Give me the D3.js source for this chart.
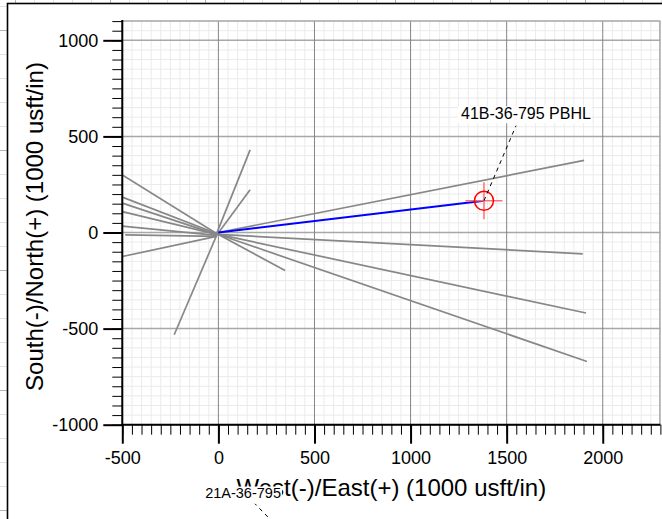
<!DOCTYPE html>
<html>
<head>
<meta charset="utf-8">
<script src="https://cdn.jsdelivr.net/npm/d3@7"></script>
<style>
  html, body { margin: 0; padding: 0; background: #fff; overflow: hidden; }
  text { font-family: "Liberation Sans", Arial, sans-serif; }
</style>
</head>
<body>
<div id="chart"></div>
<script>
const width = 662;
const height = 519;

// plot frame in pixels
const plot = { left: 122.3, right: 660.4, top: 21.1, bottom: 424.7 };

// data (East, North) in 1000 usft/in
const xDomain = [-500, 2300];
const yDomain = [-1000, 1100];
const majorStep = 500;
const minorStep = 50;
const xTickValues = [-500, 0, 500, 1000, 1500, 2000];
const yTickValues = [-1000, -500, 0, 500, 1000];

// offset wells, each a list of [east, north] points
const offsetWells = [
    [[-10, -5], [-500, 300]],
    [[-10, -5], [-500, 184]],
    [[-10, -10], [-500, 153]],
    [[-10, -10], [-500, 109]],
    [[-10, -15], [-500, 33]],
    [[-10, -20], [-485, -12]],
    [[-10, -20], [-500, -125]],
    [[-15, -20], [165, 430]],
    [[-10, -15], [165, 222]],
    [[-5, -5], [-230, -532]],
    [[0, -10], [347, -198]],
    [[0, 0], [1903, 375]],
    [[0, -10], [1896, -111]],
    [[0, -10], [1913, -419]],
    [[0, -10], [1918, -671]]
];

// plan well
const planWell = [[0, 0], [1382, 165]];
const target = { east: 1382, north: 165 };

// annotations: text and anchor (east, north)
const annotations = [
    { text: "41B-36-795 PBHL", east: 1382, north: 165 },
    { text: "21A-36-795", east: 373, north: -1599 }
];

const xTitle = "West(-)/East(+) (1000 usft/in)";
const yTitle = "South(-)/North(+) (1000 usft/in)";

// scales
const xScale = d3.scaleLinear().domain(xDomain).range([plot.left, plot.right]);
const yScale = d3.scaleLinear().domain(yDomain).range([plot.bottom, plot.top]);

const svg = d3.select("#chart").append("svg")
    .attr("width", width)
    .attr("height", height);

// page behind the chart frame (spreadsheet-like strips)
const bg = svg.append("g").attr("class", "page");
d3.range(0, width, 19).forEach((x, i) => {
    bg.append("line").attr("x1", x + 15.5).attr("x2", x + 15.5).attr("y1", 0).attr("y2", 3)
        .attr("stroke", i % 5 === 0 ? "#b5b5b5" : "#e3e3e3");
});
d3.range(6, height, 24).forEach((y, i) => {
    bg.append("line").attr("x1", 0).attr("x2", 7).attr("y1", y + 0.5).attr("y2", y + 0.5)
        .attr("stroke", i % 5 === 1 ? "#b5b5b5" : "#e3e3e3");
});

// chart frame
svg.append("rect")
    .attr("x", 7.5).attr("y", 3.5)
    .attr("width", width + 20).attr("height", height + 20)
    .attr("fill", "#fff")
    .attr("stroke", "#000")
    .attr("stroke-width", 1.6);

svg.append("defs").append("clipPath").attr("id", "plotClip")
    .append("rect")
    .attr("x", plot.left).attr("y", plot.top)
    .attr("width", plot.right - plot.left).attr("height", plot.bottom - plot.top);

const grid = svg.append("g").attr("class", "grid");

// minor grid
const xMinor = d3.range(xDomain[0], xDomain[1] + 1, minorStep).filter(d => d % majorStep !== 0);
const yMinor = d3.range(yDomain[0], yDomain[1] + 1, minorStep).filter(d => d % majorStep !== 0);

grid.selectAll("line.vminor").data(xMinor).join("line")
    .attr("class", "vminor")
    .attr("x1", d => xScale(d)).attr("x2", d => xScale(d))
    .attr("y1", plot.top).attr("y2", plot.bottom)
    .attr("stroke", "#ebebeb").attr("stroke-width", 1);

grid.selectAll("line.hminor").data(yMinor).join("line")
    .attr("class", "hminor")
    .attr("x1", plot.left).attr("x2", plot.right)
    .attr("y1", d => yScale(d)).attr("y2", d => yScale(d))
    .attr("stroke", "#ebebeb").attr("stroke-width", 1);

// major grid
const xMajor = d3.range(xDomain[0], xDomain[1] + 1, majorStep);
const yMajor = d3.range(yDomain[0], yDomain[1] + 1, majorStep);

grid.selectAll("line.hmajor").data(yMajor).join("line")
    .attr("class", "hmajor")
    .attr("x1", plot.left).attr("x2", plot.right)
    .attr("y1", d => yScale(d)).attr("y2", d => yScale(d))
    .attr("stroke", "#a8a8a8").attr("stroke-width", 1.5);

grid.selectAll("line.vmajor").data(xMajor).join("line")
    .attr("class", "vmajor")
    .attr("x1", d => xScale(d)).attr("x2", d => xScale(d))
    .attr("y1", plot.top).attr("y2", plot.bottom)
    .attr("stroke", "#858585").attr("stroke-width", 1);

// plot border top / right
grid.append("line")
    .attr("x1", plot.left).attr("x2", plot.right)
    .attr("y1", plot.top).attr("y2", plot.top)
    .attr("stroke", "#a8a8a8").attr("stroke-width", 1.5);
grid.append("line")
    .attr("x1", plot.right - 0.5).attr("x2", plot.right - 0.5)
    .attr("y1", plot.top).attr("y2", plot.bottom)
    .attr("stroke", "#a8a8a8").attr("stroke-width", 1.5);

// wells
const line = d3.line().x(d => xScale(d[0])).y(d => yScale(d[1]));
const wellsG = svg.append("g").attr("clip-path", "url(#plotClip)");

wellsG.selectAll("path.offset").data(offsetWells).join("path")
    .attr("class", "offset")
    .attr("d", line)
    .attr("fill", "none")
    .attr("stroke", "#878787")
    .attr("stroke-width", 1.7);

wellsG.append("path")
    .datum(planWell)
    .attr("d", line)
    .attr("fill", "none")
    .attr("stroke", "#0000ff")
    .attr("stroke-width", 2);

// target marker
const tx = xScale(target.east), ty = yScale(target.north);
const targetG = svg.append("g");
targetG.append("line")
    .attr("x1", tx - 18.5).attr("x2", tx + 18.5).attr("y1", ty).attr("y2", ty)
    .attr("stroke", "#ff7070").attr("stroke-width", 1.5);
targetG.append("line")
    .attr("x1", tx).attr("x2", tx).attr("y1", ty - 18.5).attr("y2", ty + 18.5)
    .attr("stroke", "#ff7070").attr("stroke-width", 1.5);
targetG.append("circle")
    .attr("cx", tx).attr("cy", ty).attr("r", 9.5)
    .attr("fill", "none").attr("stroke", "#ff0000").attr("stroke-width", 1.5);

// axes
const axisG = svg.append("g");

const xMinorAxis = d3.axisBottom(xScale)
    .tickValues(d3.range(xDomain[0], xDomain[1] + 1, minorStep))
    .tickSize(10).tickFormat("");
const xMajorAxis = d3.axisBottom(xScale)
    .tickValues(xTickValues)
    .tickSize(19).tickPadding(8).tickFormat(d => String(d));

const yMinorAxis = d3.axisLeft(yScale)
    .tickValues(d3.range(yDomain[0], yDomain[1] + 1, minorStep))
    .tickSize(10).tickFormat("");
const yMajorAxis = d3.axisLeft(yScale)
    .tickValues(yTickValues)
    .tickSize(19).tickPadding(5).tickFormat(d => String(d));

function styleAxis(g, major) {
    g.select(".domain").remove();
    g.selectAll(".tick line").attr("stroke", "#000").attr("stroke-width", major ? 2 : 1);
    g.selectAll(".tick text").attr("font-size", 18).attr("fill", "#000")
        .attr("font-family", "Liberation Sans, Arial, sans-serif");
}

axisG.append("g").attr("transform", `translate(0,${plot.bottom})`).call(xMinorAxis).call(g => styleAxis(g, false));
axisG.append("g").attr("transform", `translate(0,${plot.bottom})`).call(xMajorAxis).call(g => styleAxis(g, true));
axisG.append("g").attr("transform", `translate(${plot.left},0)`).call(yMinorAxis).call(g => styleAxis(g, false));
axisG.append("g").attr("transform", `translate(${plot.left},0)`).call(yMajorAxis).call(g => styleAxis(g, true));

// axis lines
axisG.append("line")
    .attr("x1", plot.left - 1).attr("x2", plot.right)
    .attr("y1", plot.bottom).attr("y2", plot.bottom)
    .attr("stroke", "#000").attr("stroke-width", 2);
axisG.append("line")
    .attr("x1", plot.left).attr("x2", plot.left)
    .attr("y1", plot.top - 1).attr("y2", plot.bottom + 1)
    .attr("stroke", "#000").attr("stroke-width", 2);

// axis titles
svg.append("text")
    .attr("x", (plot.left + plot.right) / 2)
    .attr("y", 496)
    .attr("text-anchor", "middle")
    .attr("font-size", 24)
    .attr("fill", "#000")
    .text(xTitle);

svg.append("text")
    .attr("transform", `translate(42.5,226.5) rotate(-90)`)
    .attr("text-anchor", "middle")
    .attr("font-size", 24)
    .attr("fill", "#000")
    .text(yTitle);

// annotations: label with white box and dashed leader
const labelStyle = [
    { dx: 42, dy: -82, lx: 32, ly: -75, size: 16 },
    { dx: -47, dy: -42, lx: -35, ly: -36, size: 14.5 }
];

annotations.forEach((a, i) => {
    const s = labelStyle[i];
    const ax = xScale(a.east), ay = yScale(a.north);
    const g = svg.append("g");
    g.append("line")
        .attr("x1", ax).attr("y1", ay)
        .attr("x2", ax + s.lx).attr("y2", ay + s.ly)
        .attr("stroke", "#000").attr("stroke-width", 1)
        .attr("stroke-dasharray", "4,4");
    const box = g.append("rect").attr("fill", "#fff");
    const t = g.append("text")
        .attr("x", ax + s.dx).attr("y", ay + s.dy)
        .attr("text-anchor", "middle")
        .attr("font-size", s.size)
        .attr("fill", "#000")
        .text(a.text);
    const bb = t.node().getBBox();
    box.attr("x", bb.x - 3).attr("width", bb.width + 4)
        .attr("y", ay + s.dy - 0.78 * s.size)
        .attr("height", 1.06 * s.size);
});
</script>
</body>
</html>
